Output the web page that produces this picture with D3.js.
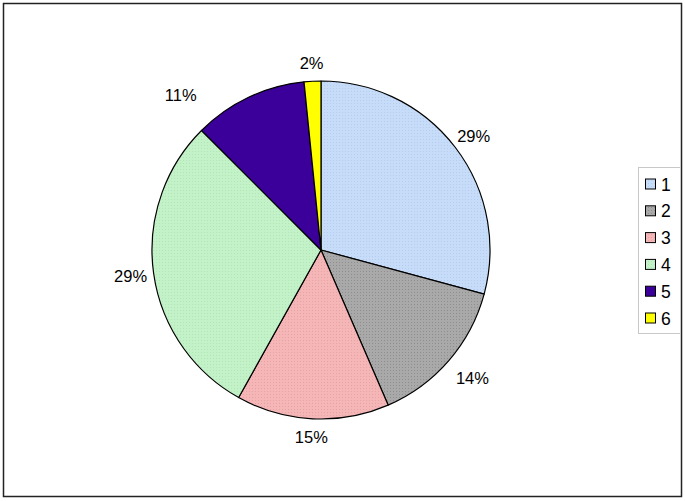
<!DOCTYPE html>
<html><head><meta charset="utf-8">
<script src="https://cdn.jsdelivr.net/npm/d3@7"></script>
<style>body{margin:0;background:#fff}svg{display:block}text{font-family:"Liberation Sans",Arial,sans-serif}</style>
</head><body><svg id="c" width="685" height="501"></svg>
<script>
const categories = ["1","2","3","4","5","6"];
const values = [29.2, 14.3, 14.6, 29.4, 10.9, 1.6];
const labels = ["29%","14%","15%","29%","11%","2%"];
const colors = ["#c6dcf8","#a9a9a9","#f4b6b6","#c4f2c8","#3a0099","#ffff00"];
const dotColors = ["#b4cdee","#8e8e8e","#e8a2a2","#b0e6b6","#3a0099","#ffff00"];
const labelShift = [0,0,0,0,-16,0];
const labelPush = [0,8,0,0,20,0];

const svg = d3.select("#c");
svg.append("rect").attr("x",3.5).attr("y",3.5).attr("width",678).attr("height",493)
  .attr("fill","#fff").attr("stroke","#222").attr("stroke-width",1.5);

const defs = svg.append("defs");
colors.forEach((c,i)=>{
  const p = defs.append("pattern").attr("id","p"+i).attr("width",3).attr("height",3)
    .attr("patternUnits","userSpaceOnUse");
  p.append("rect").attr("width",3).attr("height",3).attr("fill",c);
  p.append("rect").attr("width",1).attr("height",1).attr("fill",dotColors[i]);
});

const cx = 321, cy = 250, R = 169;
const pie = d3.pie().sort(null).value(d=>d)(values);
const arc = d3.arc().innerRadius(0).outerRadius(R);
const g = svg.append("g").attr("transform",`translate(${cx},${cy})`);
g.selectAll("path").data(pie).join("path")
  .attr("d",arc).attr("fill",(d,i)=>`url(#p${i})`)
  .attr("stroke","#000").attr("stroke-width",1.2).attr("stroke-linejoin","round");

g.selectAll("text.lbl").data(pie).join("text").attr("class","lbl")
  .each(function(d,i){
    const a = (d.startAngle+d.endAngle)/2 + labelShift[i]*Math.PI/180;
    const ux = Math.sin(a), uy = -Math.cos(a);
    const w = labels[i].length*9.5, h = 18;
    const r0 = R + 9 + labelPush[i];
    const x = ux*r0 + ux*w/2, y = uy*r0 + uy*h/2;
    d3.select(this).attr("x",x).attr("y",y+6).attr("text-anchor","middle")
      .attr("font-size",16.5).attr("fill","#000").text(labels[i]);
  });

const lg = svg.append("g");
lg.append("rect").attr("x",638.5).attr("y",167.5).attr("width",42).attr("height",166)
  .attr("fill","#fff").attr("stroke","#c8c8c8").attr("stroke-width",1);
const ly = d3.scalePoint().domain(categories).range([184,318]);
categories.forEach((c,i)=>{
  lg.append("rect").attr("x",645.5).attr("y",ly(c)-5).attr("width",10).attr("height",10)
    .attr("fill",`url(#p${i})`).attr("stroke","#000").attr("stroke-width",1);
  lg.append("text").attr("x",661).attr("y",ly(c)+6.5).attr("font-size",17.5).attr("fill","#000").text(c);
});
</script></body></html>
